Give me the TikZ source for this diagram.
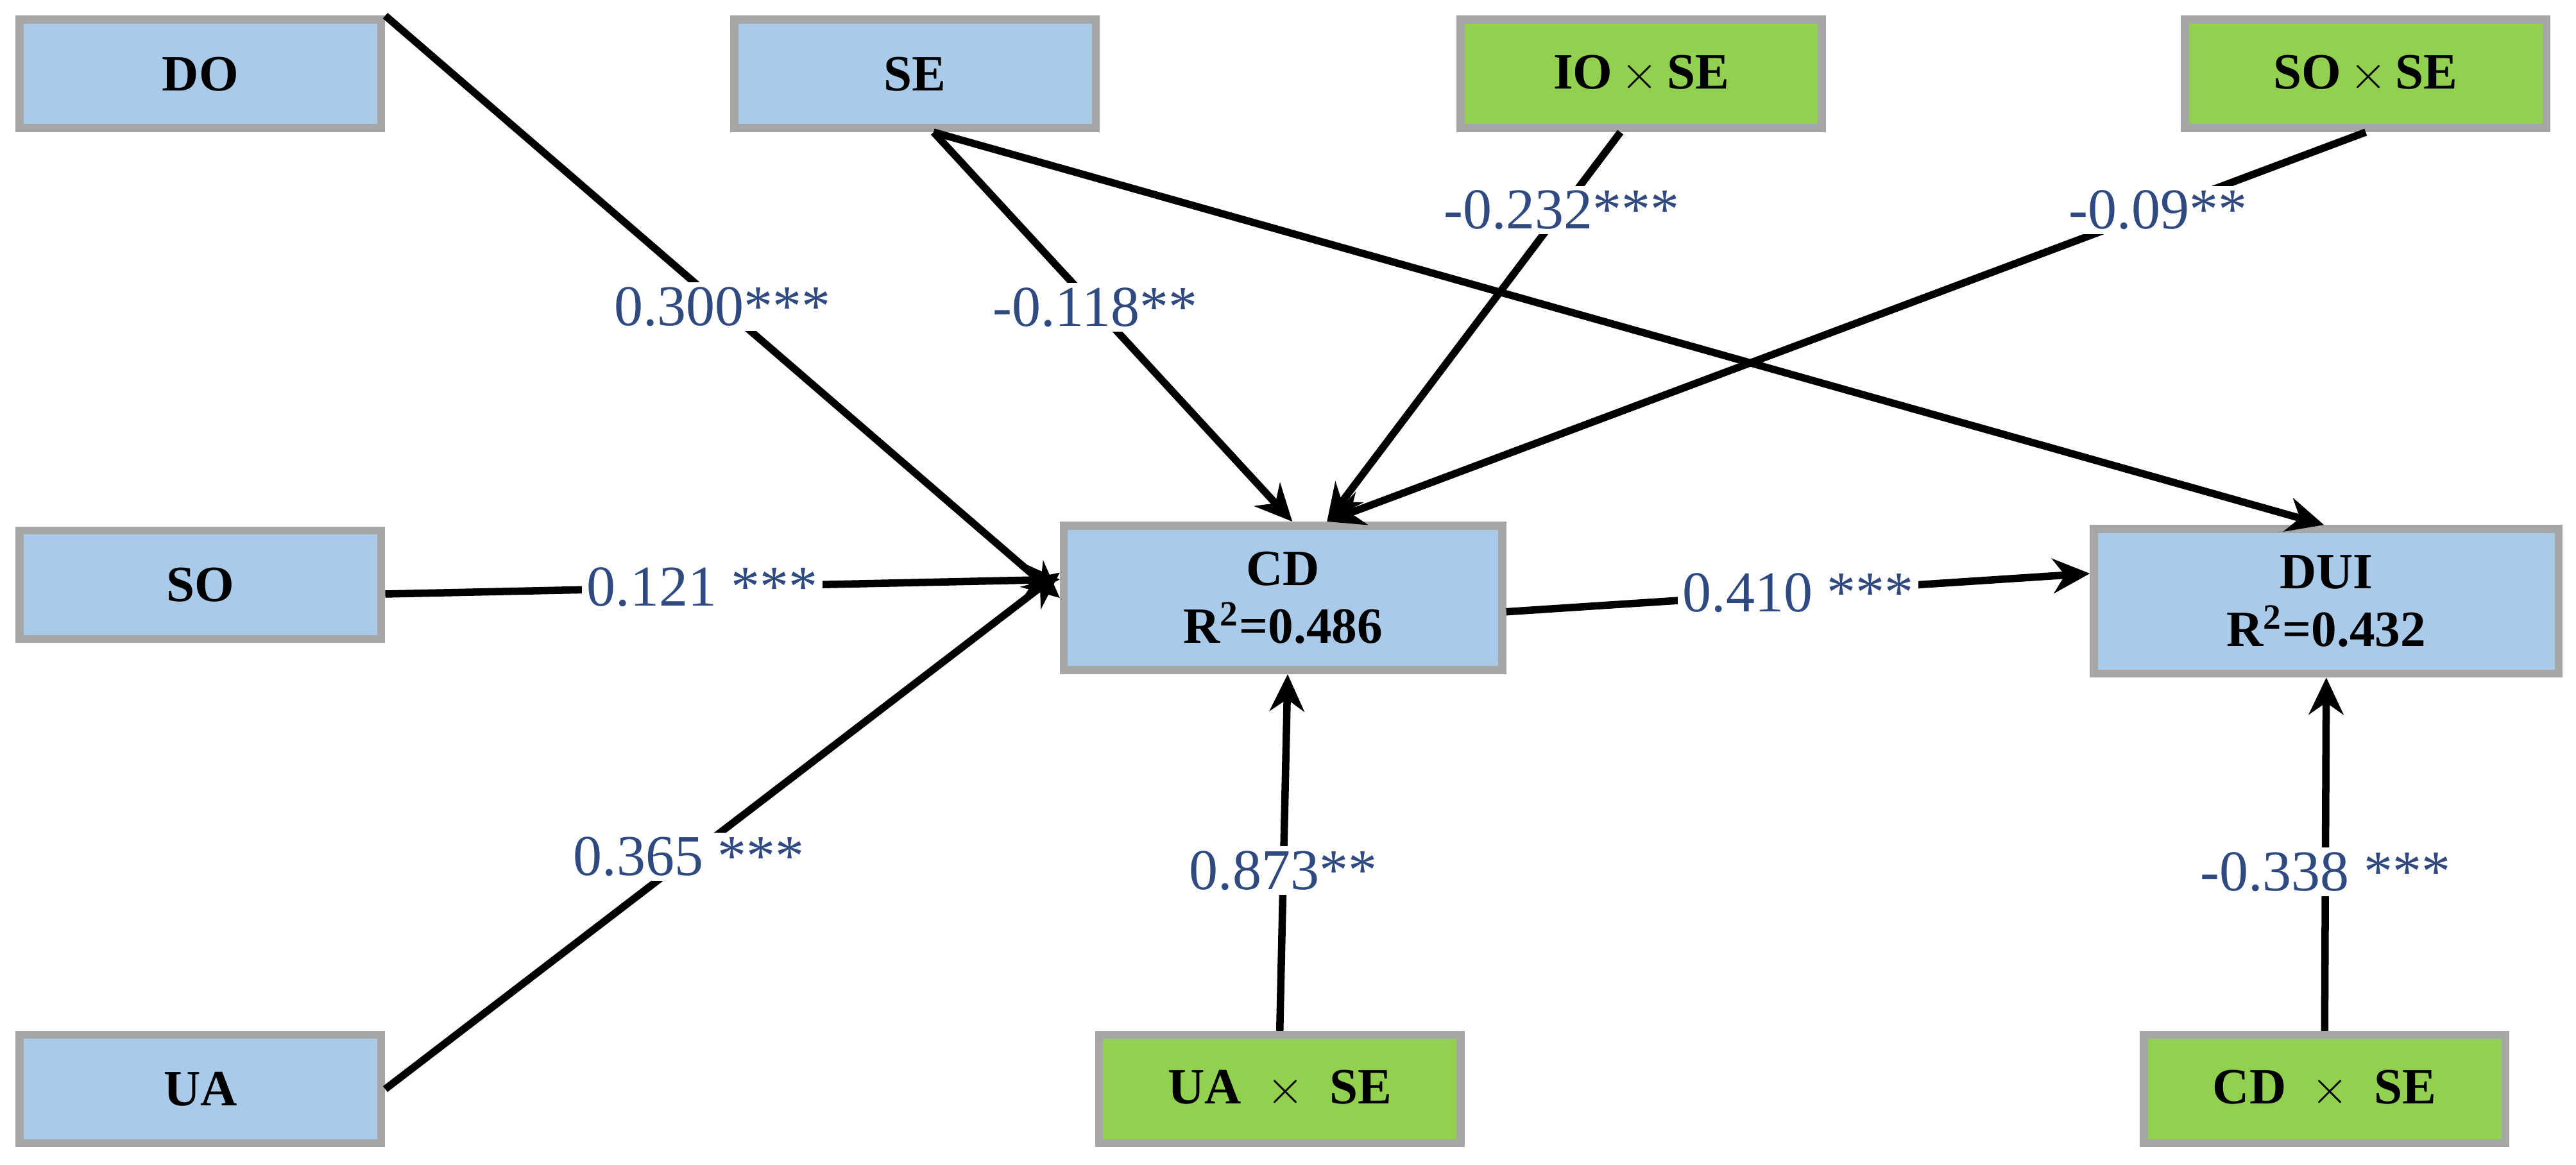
\documentclass[tikz,border=0pt]{standalone}
\usepackage{fontspec}
\setmainfont{Liberation Serif}
\usetikzlibrary{arrows.meta}
\usetikzlibrary{positioning}
\definecolor{boxblue}{RGB}{169,202,233}
\definecolor{boxgreen}{RGB}{146,208,80}
\definecolor{coefblue}{RGB}{47,74,128}
\tikzstyle{varblock} = [rectangle, minimum width=5.5cm, minimum height=1.65cm, text centered, draw=black!35,
line width=3.5pt, fill=boxblue, font=\fontsize{22}{24}\selectfont\bfseries]
\tikzstyle{modblock} = [varblock, fill=boxgreen]
\tikzstyle{outblock} = [varblock, minimum height=2.2cm, align=center, font=\fontsize{22}{25}\selectfont\bfseries]
\tikzstyle{arrow} = [line width=3.2pt,-{Stealth[length=16pt,width=15pt]}]
\tikzstyle{coef} = [fill=white, text=coefblue, inner sep=2pt, font=\fontsize{25}{27}\selectfont]
\begin{document}
\begin{tikzpicture}[x=0.025cm, y=-0.025cm]
  \useasboundingbox (0,0) rectangle (1568,709);
  \node (do) [varblock] at (122,45) {DO};
  \node (se) [varblock] at (557,45) {SE};
  \node (ioxse) [modblock] at (999,45) {IO\,$\times$\,SE};
  \node (soxse) [modblock] at (1440,45) {SO\,$\times$\,SE};
  \node (so) [varblock] at (122,356) {SO};
  \node (ua) [varblock] at (122,663) {UA};
  \node (cd) [outblock, minimum width=6.67cm] at (781,364) {CD\\R\textsuperscript{2}=0.486};
  \node (dui) [outblock, minimum width=7.07cm] at (1416,366) {DUI\\R\textsuperscript{2}=0.432};
  \node (uaxse) [modblock] at (779,663) {UA \ $\times$ \ SE};
  \node (cdxse) [modblock] at (1415,663) {CD \ $\times$ \ SE};
  % paths into CD
  \draw [arrow] (do.north east) -- node[coef] {0.300***} (cd.west);
  \draw [arrow] ([xshift=8]se.south) -- node[coef, pos=0.45] {-0.118**} ([xshift=4]cd.north);
  \draw [arrow] ([xshift=-9]ioxse.south) -- node[coef, pos=0.2] {-0.232***} ([xshift=19]cd.north);
  \draw [arrow] (soxse.south) -- node[coef, pos=0.2] {-0.09**} ([xshift=19]cd.north);
  \draw [arrow] ([yshift=-4]so.east) -- node[coef, pos=0.47] {0.121 ***} ([yshift=8]cd.west);
  \draw [arrow] (ua.east) -- node[coef, pos=0.45] {0.365 ***} ([yshift=11]cd.west);
  \draw [arrow] (uaxse.north) -- node[coef, pos=0.45] {0.873**} ([xshift=2]cd.south);
  % paths into DUI
  \draw [arrow] ([xshift=8]se.south) -- ([xshift=-1]dui.north);
  \draw [arrow] ([yshift=-6]cd.east) -- node[coef] {0.410 ***} ([yshift=12]dui.west);
  \draw [arrow] (cdxse.north) -- node[coef, pos=0.45] {-0.338 ***} (dui.south);
\end{tikzpicture}
\end{document}
